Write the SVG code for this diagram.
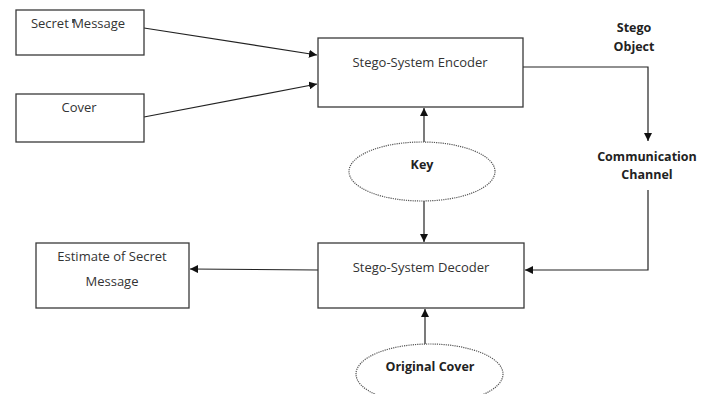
<svg xmlns="http://www.w3.org/2000/svg" width="710" height="394" viewBox="0 0 710 394">
  <style>
    .box { fill: #fff; stroke: #3a3a3a; stroke-width: 1.3; }
    .oval { fill: #fff; stroke: #555; stroke-width: 1.2; stroke-dasharray: 1.2 1; }
    .wire { fill: none; stroke: #222; stroke-width: 1.2; }
    .lbl { font-family: "Open Sans", "Liberation Sans", sans-serif; font-size: 13px; fill: #333; text-anchor: middle; }
    .bold { font-weight: bold; font-size: 12.5px; fill: #222; }
  </style>
  <defs>
    <marker id="arrow" viewBox="0 0 10 10" refX="10" refY="5" markerWidth="8" markerHeight="8" markerUnits="userSpaceOnUse" orient="auto">
      <path d="M0,0 L10,5 L0,10 z" fill="#111"/>
    </marker>
  </defs>
  <rect width="710" height="394" fill="#fff"/>

  <g id="connectors">
    <line class="wire" x1="144" y1="28" x2="317" y2="55" marker-end="url(#arrow)"/>
    <line class="wire" x1="144" y1="117" x2="317" y2="84" marker-end="url(#arrow)"/>
    <polyline class="wire" points="523,67 648,67 648,141" marker-end="url(#arrow)"/>
    <polyline class="wire" points="648,190 648,270 525,270" marker-end="url(#arrow)"/>
    <line class="wire" x1="424" y1="142" x2="424" y2="108" marker-end="url(#arrow)"/>
    <line class="wire" x1="424" y1="201" x2="424" y2="242" marker-end="url(#arrow)"/>
    <line class="wire" x1="318" y1="270" x2="190" y2="269" marker-end="url(#arrow)"/>
    <line class="wire" x1="425" y1="344" x2="425" y2="309" marker-end="url(#arrow)"/>
  </g>

  <g id="secret-message">
    <rect class="box" x="16" y="10" width="128" height="45"/>
    <text class="lbl" x="78" y="28">Secret Message</text>
    <line x1="73" y1="19" x2="73" y2="23" stroke="#222" stroke-width="1.5"/>
  </g>

  <g id="cover">
    <rect class="box" x="16" y="94" width="128" height="48"/>
    <text class="lbl" x="79" y="112">Cover</text>
  </g>

  <g id="encoder">
    <rect class="box" x="318" y="38" width="205" height="69"/>
    <text class="lbl" x="420" y="67">Stego-System Encoder</text>
  </g>

  <g id="stego-object">
    <text class="lbl bold" x="634" y="32">Stego</text>
    <text class="lbl bold" x="634" y="51">Object</text>
  </g>

  <g id="channel">
    <text class="lbl bold" x="647" y="161">Communication</text>
    <text class="lbl bold" x="647" y="179">Channel</text>
  </g>

  <g id="key">
    <ellipse class="oval" cx="422" cy="171.5" rx="73" ry="29.5"/>
    <text class="lbl bold" x="422" y="169">Key</text>
  </g>

  <g id="decoder">
    <rect class="box" x="318" y="243" width="206" height="65"/>
    <text class="lbl" x="421" y="272">Stego-System Decoder</text>
  </g>

  <g id="estimate">
    <rect class="box" x="36" y="243" width="153" height="65"/>
    <text class="lbl" x="112" y="261">Estimate of Secret</text>
    <text class="lbl" x="112" y="286">Message</text>
  </g>

  <g id="original-cover">
    <ellipse class="oval" cx="429.5" cy="374" rx="73.5" ry="30"/>
    <text class="lbl bold" x="430" y="371">Original Cover</text>
  </g>
</svg>
